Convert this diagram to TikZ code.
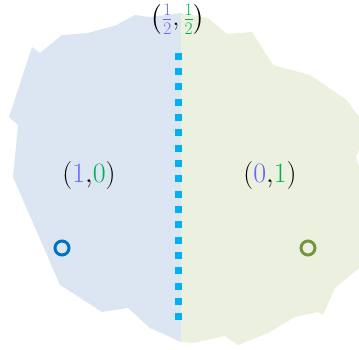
\RequirePackage{fix-cm}
\documentclass[tikz,border=0pt]{standalone}
\usepackage{xcolor}
\usepackage{amsmath}
\definecolor{regblue}{HTML}{DCE6F2}
\definecolor{reggreen}{HTML}{EBF1DE}
\definecolor{divcol}{HTML}{00B0F0}
\definecolor{numblue}{HTML}{6666FF}
\definecolor{numgreen}{HTML}{00B050}
\definecolor{ptblue}{HTML}{0070C0}
\definecolor{ptgreen}{HTML}{77933C}
\begin{document}
\begin{tikzpicture}[x=1pt,y=-1pt,
  lbl/.style={inner sep=0pt,font=\fontsize{28}{32}\selectfont},
  pt/.style={circle,draw,line width=3pt,minimum size=14pt,inner sep=0pt}]
\useasboundingbox (0,0) rectangle (359,349);
\fill[regblue] (181,13) -- (150,17) -- (135,15) -- (120,23) -- (117,25) -- (88,33) -- (62,35) -- (40,53) -- (32,47)
  -- (9,117) -- (18,125) -- (13,177) -- (60,285) -- (102,312) -- (128,308) -- (150,328) -- (181,342) -- cycle;
\fill[reggreen] (181,13) -- (208,18) -- (227,34) -- (252,32) -- (273,65) -- (310,75) -- (347,100) -- (359,117)
  -- (359,150) -- (356,157) -- (359,167) -- (359,268) -- (335,288) -- (323,315) -- (318,312) -- (295,317)
  -- (268,333) -- (238,345) -- (225,336) -- (193,343) -- (181,342) -- cycle;
\coordinate (dtop) at (178,52.5);
\coordinate (dbot) at (178,321);
\draw[divcol,line width=7pt,dash pattern=on 7pt off 8.35pt] (dtop) -- (dbot);
\node[lbl,font=\fontsize{25}{30}\selectfont,anchor=north] (half) at (178,4) {$\left(\textcolor{numblue}{\tfrac{1}{2}}{,}\,\textcolor{numgreen}{\tfrac{1}{2}}\right)$};
\node[lbl] (left) at (89,175) {$(\textcolor{numblue}{1}{,}\textcolor{numgreen}{0})$};
\node[lbl] (right) at (270,175) {$(\textcolor{numblue}{0}{,}\textcolor{numgreen}{1})$};
\node[pt,draw=ptblue] (pa) at (62,248) {};
\node[pt,draw=ptgreen] (pb) at (308,248) {};
\end{tikzpicture}
\end{document}
